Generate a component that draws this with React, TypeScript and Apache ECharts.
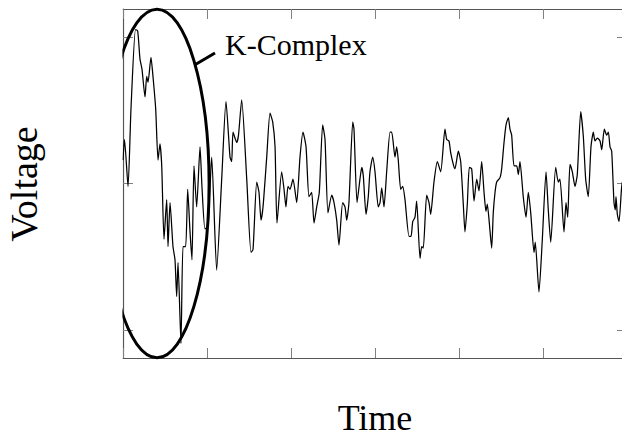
import React, { useEffect, useRef } from "react";
import * as echarts from "echarts";

// Time axis values (0..6) and matching voltage values
const time = [
  0, 0.018, 0.06, 0.095, 0.149, 0.175, 0.202, 0.226, 0.262, 0.282,
  0.298, 0.333, 0.357, 0.389, 0.417, 0.44, 0.461, 0.488, 0.52, 0.536,
  0.56, 0.595, 0.619, 0.639, 0.655, 0.69, 0.714, 0.746, 0.77, 0.798,
  0.821, 0.845, 0.877, 0.917, 0.94, 0.976, 1.012, 1.056, 1.115, 1.175,
  1.226, 1.274, 1.294, 1.31, 1.354, 1.375, 1.413, 1.473, 1.524, 1.548,
  1.592, 1.619, 1.643, 1.667, 1.711, 1.75, 1.782, 1.81, 1.833, 1.889,
  1.917, 1.94, 1.964, 1.988, 2.024, 2.068, 2.107, 2.143, 2.179, 2.214,
  2.246, 2.274, 2.306, 2.337, 2.377, 2.405, 2.44, 2.485, 2.512, 2.544,
  2.571, 2.615, 2.643, 2.663, 2.69, 2.735, 2.75, 2.786, 2.821, 2.842,
  2.861, 2.893, 2.92, 2.94, 2.973, 3.0, 3.039, 3.06, 3.08, 3.107,
  3.139, 3.179, 3.199, 3.238, 3.258, 3.277, 3.306, 3.33, 3.357, 3.405,
  3.429, 3.449, 3.476, 3.496, 3.536, 3.556, 3.575, 3.615, 3.643, 3.663,
  3.702, 3.742, 3.782, 3.833, 3.854, 3.881, 3.901, 3.932, 3.952, 3.992,
  4.02, 4.051, 4.071, 4.099, 4.123, 4.151, 4.179, 4.211, 4.238, 4.27,
  4.298, 4.321, 4.337, 4.361, 4.389, 4.408, 4.429, 4.449, 4.488, 4.508,
  4.536, 4.56, 4.587, 4.607, 4.627, 4.655, 4.687, 4.706, 4.726, 4.765,
  4.798, 4.825, 4.854, 4.893, 4.908, 4.952, 4.992, 5.036, 5.063, 5.092,
  5.151, 5.182, 5.202, 5.25, 5.274, 5.294, 5.321, 5.349, 5.381, 5.408,
  5.449, 5.48, 5.508, 5.539, 5.571, 5.599, 5.619, 5.647, 5.679, 5.699,
  5.73, 5.758, 5.778, 5.798, 5.818, 5.845, 5.861, 5.869, 5.885, 5.905,
  5.937, 5.964,
];

const voltage = [
  0.16, 0.3, -0.02, 0.51, 1.05, 1.04, 0.85, 0.78, 0.59, 0.73,
  0.69, 0.86, 0.73, 0.51, 0.16, 0.27, 0.12, -0.38, -0.11, -0.43,
  -0.13, -0.43, -0.52, -0.77, -0.54, -1.09, -0.43, -0.43, -0.04, -0.33,
  -0.52, 0.12, -0.16, 0.25, -0.02, -0.31, -0.29, 0.18, -0.59, 0.03,
  0.56, 0.18, 0.15, 0.35, 0.28, 0.33, 0.57, 0.03, -0.47, -0.45,
  0.01, -0.06, -0.25, -0.16, 0.18, 0.48, 0.42, 0.25, -0.27, 0.08,
  -0.04, -0.16, -0.02, -0.04, 0.03, -0.13, 0.18, 0.35, 0.25, -0.09,
  -0.06, -0.27, -0.16, -0.06, 0.4, 0.3, -0.2, -0.08, -0.13, -0.25,
  -0.42, -0.13, -0.16, -0.25, -0.13, 0.42, 0.37, -0.13, 0.03, 0.11,
  0.05, -0.21, -0.09, 0.08, 0.18, 0.08, -0.16, -0.13, -0.03, -0.16,
  0.08, 0.35, 0.35, 0.18, 0.25, 0.16, -0.04, -0.02, -0.11, -0.36,
  -0.36, -0.26, -0.23, -0.12, -0.51, -0.43, -0.44, -0.08, -0.13, -0.21,
  0.01, 0.15, 0.08, 0.37, 0.3, 0.29, 0.21, 0.13, 0.1, 0.22,
  0.15, -0.14, -0.33, -0.14, 0.11, 0.1, -0.12, 0.03, -0.05, 0.15,
  -0.06, -0.19, -0.14, -0.27, -0.44, -0.2, -0.06, 0.01, 0.04, 0.1,
  0.28, 0.4, 0.45, 0.37, 0.33, 0.12, 0.12, 0.06, 0.15, -0.09,
  -0.23, -0.06, -0.2, -0.47, -0.4, -0.74, -0.38, 0.08, -0.18, -0.4,
  0.11, 0.01, 0.03, -0.33, -0.13, -0.23, 0.13, 0.08, -0.02, 0.06,
  0.49, 0.32, 0.03, -0.09, 0.25, 0.35, 0.29, 0.31, 0.29, 0.23,
  0.37, 0.33, 0.35, 0.25, 0.22, -0.13, -0.18, -0.09, -0.21, -0.26,
  -0.02, 0.06,
];

const xTicks = [0, 1, 2, 3, 4, 5, 6];
const yTicks = [-1, 0, 1];
const xTitle = "Time";
const yTitle = "Voltage";
const annotationLabel = "K-Complex";
const ellipseCenter = [0.405, 0];
const ellipseRadii = [0.62, 1.188];
const pointerFrom = [0.857, 0.81];
const pointerTo = [1.095, 0.89];
const labelAt = [1.214, 0.95];

export default function App() {
  const ref = useRef<HTMLDivElement>(null);

  useEffect(() => {
    if (!ref.current) return;
    const chart = echarts.init(ref.current, null, { renderer: "svg" });
    const font = "Liberation Serif, serif";
    const tickStyle = { color: "#808080", width: 1 };
    const frameLine = { show: true, onZero: false, lineStyle: { color: "#555555", width: 1.2 } };
    const xAxisBase = {
      type: "value",
      min: 0,
      max: 6,
      interval: 1,
      axisLine: frameLine,
      axisTick: { show: true, inside: true, length: 10, lineStyle: tickStyle, customValues: xTicks },
      axisLabel: { show: false },
      splitLine: { show: false },
    };
    const yAxisBase = {
      type: "value",
      min: -1.19,
      max: 1.19,
      axisTick: { show: true, inside: true, length: 10, lineStyle: tickStyle, customValues: yTicks },
      axisLabel: { show: false, customValues: yTicks },
      splitLine: { show: false },
    };
    chart.setOption({
      animation: false,
      grid: { left: 123, top: 9, width: 504, height: 349 },
      xAxis: [
        { ...xAxisBase, position: "bottom" },
        { ...xAxisBase, position: "top" },
      ],
      yAxis: [
        { ...yAxisBase, position: "left", axisLine: frameLine },
        { ...yAxisBase, position: "right", axisLine: { show: false, onZero: false } },
      ],
      series: [
        {
          type: "line",
          xAxisIndex: 0,
          yAxisIndex: 0,
          data: time.map((t, i) => [t, voltage[i]]),
          showSymbol: false,
          symbol: "none",
          smooth: 0.2,
          clip: true,
          lineStyle: { color: "#000000", width: 1.25 },
        },
      ],
    });

    const px = (p: number[]) => chart.convertToPixel({ seriesIndex: 0 }, p) as number[];
    const c = px(ellipseCenter);
    const e = px([ellipseCenter[0] + ellipseRadii[0], ellipseCenter[1] + ellipseRadii[1]]);
    const a = px(pointerFrom);
    const b = px(pointerTo);
    const l = px(labelAt);
    const origin = px([0, 0]);

    chart.setOption({
      graphic: [
        {
          type: "ellipse",
          shape: { cx: c[0], cy: c[1], rx: Math.abs(e[0] - c[0]), ry: Math.abs(c[1] - e[1]) },
          style: { fill: "none", stroke: "#000000", lineWidth: 3 },
          z: 10,
        },
        {
          // hides the part of the ellipse that lies left of the plot area (clipping)
          type: "rect",
          shape: { x: origin[0] - 40, y: 0, width: 39.4, height: 437 },
          style: { fill: "#ffffff" },
          z: 11,
        },
        {
          type: "line",
          shape: { x1: a[0], y1: a[1], x2: b[0], y2: b[1] },
          style: { stroke: "#000000", lineWidth: 3 },
          z: 10,
        },
        {
          type: "text",
          x: l[0],
          y: l[1],
          style: {
            text: annotationLabel,
            fontSize: 30,
            fontFamily: font,
            fill: "#000000",
            align: "left",
            verticalAlign: "middle",
          },
          z: 10,
        },
        {
          type: "text",
          x: 375,
          y: 418,
          style: {
            text: xTitle,
            fontSize: 36,
            fontFamily: font,
            fill: "#000000",
            align: "center",
            verticalAlign: "middle",
          },
        },
        {
          type: "text",
          x: 24,
          y: 184,
          rotation: Math.PI / 2,
          style: {
            text: yTitle,
            fontSize: 38,
            fontFamily: font,
            fill: "#000000",
            align: "center",
            verticalAlign: "middle",
          },
        },
      ],
    });

    return () => chart.dispose();
  }, []);

  return (
    <div
      style={{
        position: "fixed",
        left: 0,
        top: 0,
        width: 622,
        height: 437,
        overflow: "hidden",
        background: "#ffffff",
      }}
    >
      <div ref={ref} style={{ width: 640, height: 437 }} />
    </div>
  );
}
